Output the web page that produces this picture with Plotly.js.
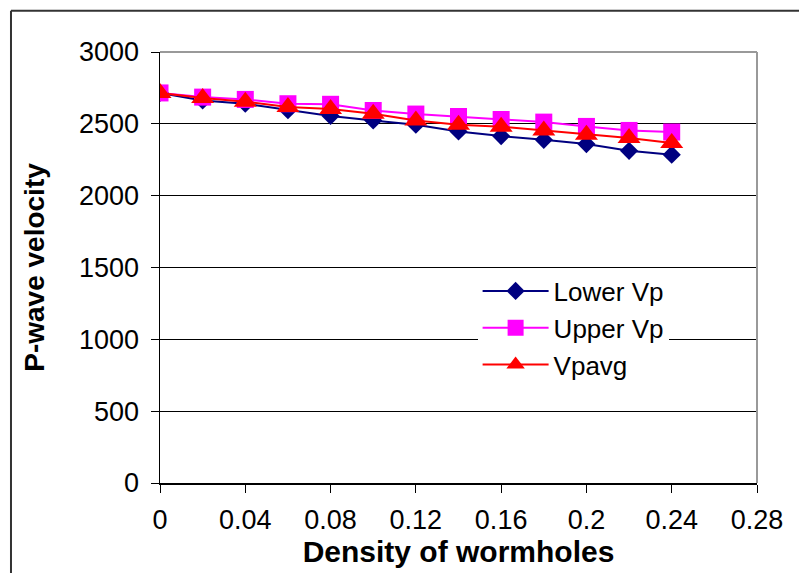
<!DOCTYPE html>
<html>
<head>
<meta charset="utf-8">
<script src="https://cdn.plot.ly/plotly-3.0.1.min.js"></script>
<style>
html,body{margin:0;padding:0;background:#fff;}
#chart{width:799px;height:573px;}
</style>
</head>
<body>
<div id="chart"></div>
<script>
var density = [0, 0.02, 0.04, 0.06, 0.08, 0.10, 0.12, 0.14, 0.16, 0.18, 0.20, 0.22, 0.24];
var lowerVp = [2715, 2663, 2640, 2595, 2555, 2524, 2494, 2447, 2415, 2389, 2359, 2312, 2285];
var upperVp = [2715, 2686, 2670, 2640, 2636, 2593, 2568, 2551, 2530, 2512, 2482, 2454, 2443];
var vpAvg   = [2715, 2680, 2654, 2617, 2603, 2570, 2524, 2494, 2480, 2454, 2424, 2401, 2366];
var seriesNames = ["Lower Vp", "Upper Vp", "Vpavg"];
var xTicks = [0, 0.04, 0.08, 0.12, 0.16, 0.2, 0.24, 0.28];
var xTickText = ["0", "0.04", "0.08", "0.12", "0.16", "0.2", "0.24", "0.28"];
var yTicks = [0, 500, 1000, 1500, 2000, 2500, 3000];

var FONT = "Liberation Sans, Arial, sans-serif";

var traces = [
  {x: density, y: lowerVp, name: seriesNames[0], mode: "lines+markers",
   line: {color: "#000080", width: 2},
   marker: {symbol: "diamond", size: 14, color: "#000080"}},
  {x: density, y: upperVp, name: seriesNames[1], mode: "lines+markers",
   line: {color: "#FF00FF", width: 2},
   marker: {symbol: "square", size: 17, color: "#FF00FF"}},
  {x: density, y: vpAvg, name: seriesNames[2], mode: "lines+markers",
   line: {color: "#FF0000", width: 2},
   marker: {symbol: "triangle-up", size: 20, color: "#FF0000"}}
];

var layout = {
  width: 799, height: 573,
  margin: {l: 160, r: 42, t: 52, b: 90},
  paper_bgcolor: "#fff", plot_bgcolor: "#fff",
  font: {family: FONT, color: "#000"},
  showlegend: true,
  hovermode: false,
  xaxis: {
    range: [0, 0.28], tickvals: xTicks, ticktext: xTickText,
    showgrid: false, zeroline: false,
    showline: true, linecolor: "#000", linewidth: 1.5,
    ticks: "outside", ticklen: 8, tickcolor: "#000", tickwidth: 1,
    ticklabelstandoff: 4,
    tickfont: {size: 27, family: FONT},
    title: {text: "<b>Density of wormholes</b>", font: {size: 30, family: FONT}, standoff: 0}
  },
  yaxis: {
    range: [0, 3000], tickvals: yTicks,
    showgrid: true, gridcolor: "#000", gridwidth: 1,
    zeroline: false,
    showline: true, linecolor: "#000", linewidth: 1.5,
    ticks: "outside", ticklen: 8, tickcolor: "#000", tickwidth: 1,
    ticklabelstandoff: 6,
    tickfont: {size: 27, family: FONT},
    title: {text: "<b>P-wave velocity</b>", font: {size: 28, family: FONT}, standoff: 26}
  },
  legend: {
    x: 0.532, y: 0.5, xanchor: "left", yanchor: "top",
    bgcolor: "#fff", borderwidth: 0,
    font: {size: 26, family: FONT},
    itemwidth: 66
  },
  shapes: [
    {type: "line", xref: "paper", yref: "paper", x0: 0, x1: 1, y0: 1, y1: 1,
     line: {color: "#999", width: 2}, layer: "above"},
    {type: "line", xref: "paper", yref: "paper", x0: 1, x1: 1, y0: 0, y1: 1,
     line: {color: "#999", width: 2}, layer: "above"},
    {type: "line", xref: "paper", yref: "paper", x0: -0.2496, x1: 1.08, y0: 1.0959, y1: 1.0959,
     line: {color: "#333", width: 2}, layer: "above"},
    {type: "line", xref: "paper", yref: "paper", x0: -0.2496, x1: -0.2496, y0: -0.22, y1: 1.0959,
     line: {color: "#333", width: 2}, layer: "above"}
  ]
};

Plotly.newPlot("chart", traces, layout, {displayModeBar: false, staticPlot: true});
</script>
</body>
</html>
